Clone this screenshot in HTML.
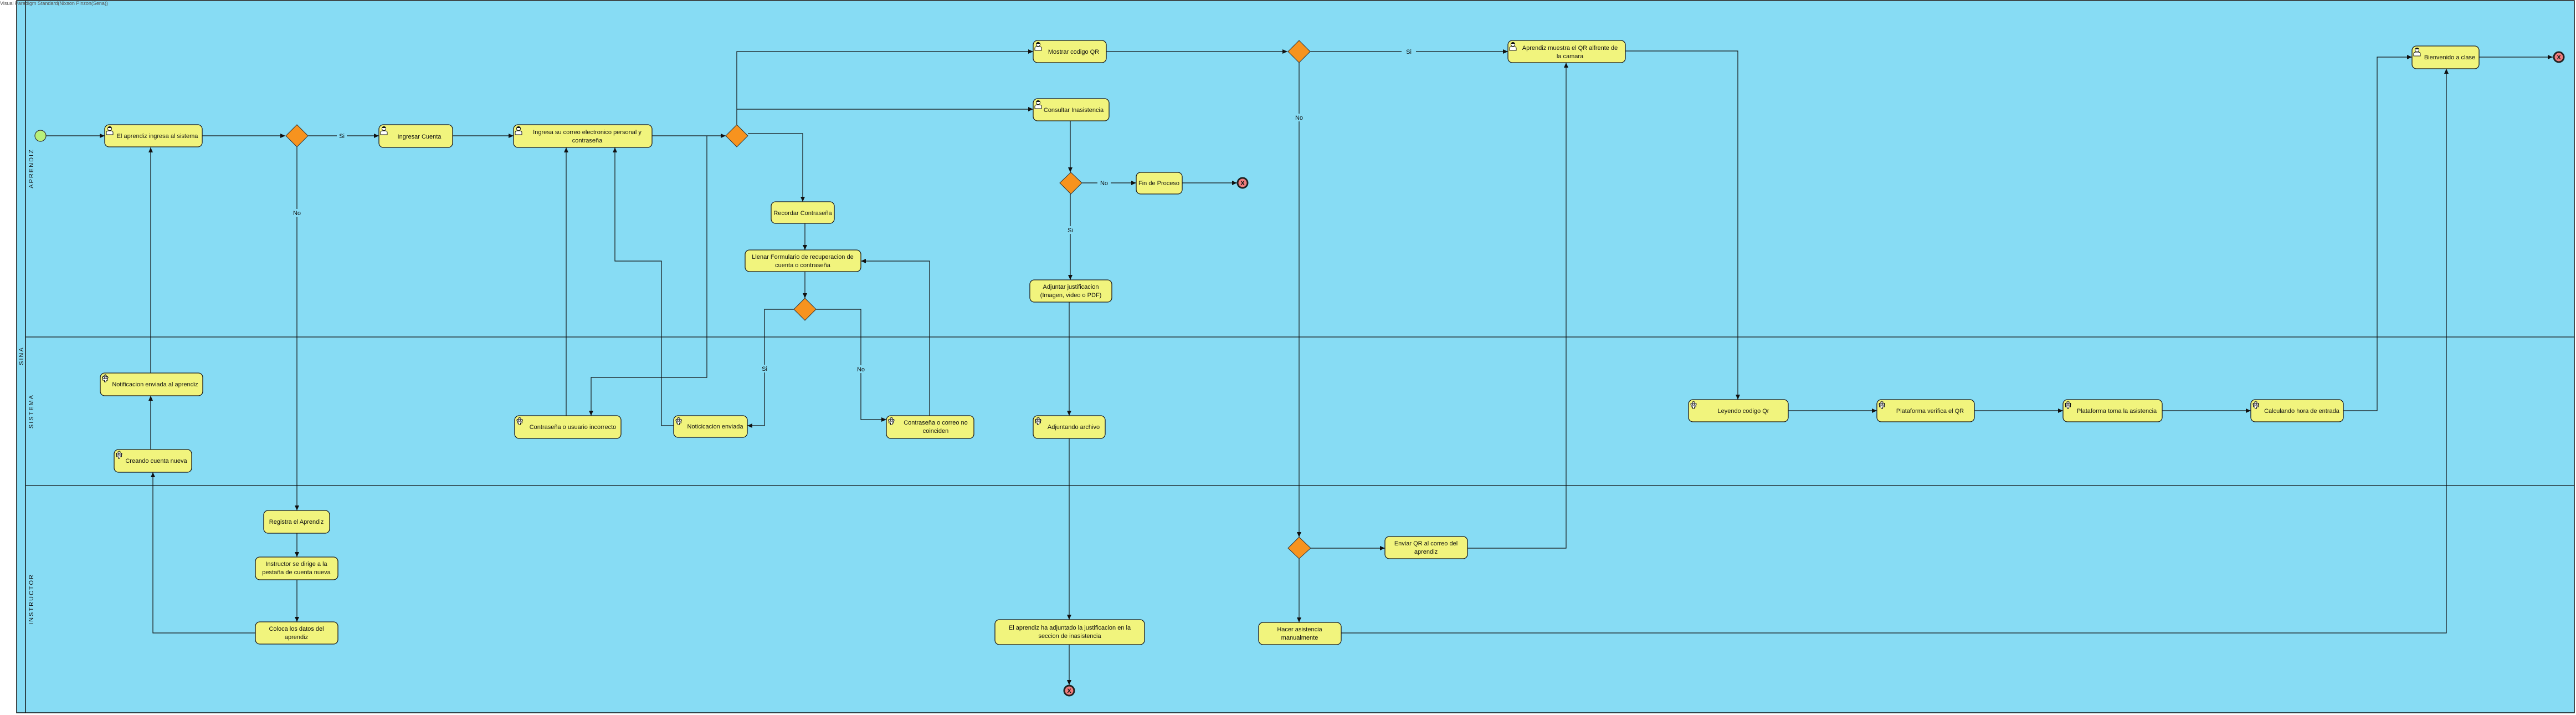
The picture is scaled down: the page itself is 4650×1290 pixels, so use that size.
<!DOCTYPE html>
<html><head><meta charset="utf-8"><style>
html,body{margin:0;padding:0;background:#fff;}
svg{display:block;}
text{font-family:"Liberation Sans",Arial,sans-serif;font-size:11px;fill:#111;}
.t rect.b{fill:#F1F47D;stroke:#1a1a1a;stroke-width:1.3;}
.c{fill:none;stroke:#111;stroke-width:1.2;}
.lbl text{font-size:11px;}
</style></head><body>
<svg width="4650" height="1290" viewBox="0 0 4650 1290" xmlns="http://www.w3.org/2000/svg">
<defs>
<marker id="a" markerWidth="10" markerHeight="10" refX="9" refY="5" orient="auto" markerUnits="userSpaceOnUse"><path d="M0,1 L9,5 L0,9 z" fill="#111"/></marker>
<g id="usr"><circle cx="7" cy="5" r="3.6" fill="#fff" stroke="#111" stroke-width="1"/><path d="M3.5,4 Q7,-1 10.5,4 Z" fill="#111"/><path d="M1,16 L1,12 Q1,9 5,9 L9,9 Q13,9 13,12 L13,16 Z" fill="#fff" stroke="#111" stroke-width="1"/></g>
<g id="gear"><path d="M5,1 h4 v2.5 h2.5 v4 h-2.5 v0 h0 v2.5 h-4 v-2.5 h-2.5 v-4 h2.5 z M1,5 h2 M11,5 h2 M7,-1 v2 M7,11 v2" fill="#fff" stroke="#111" stroke-width="1"/><circle cx="7" cy="5.5" r="1.8" fill="#fff" stroke="#111" stroke-width="1"/><path d="M2.5,10 h3 v3 h3 v-3 h3 v-3 h-9 z" fill="#fff" stroke="#111" stroke-width="1"/></g>
</defs>
<rect x="0" y="0" width="4650" height="1290" fill="#fff"/>
<rect x="30" y="1" width="4617" height="1285" fill="#87DCF4" stroke="#111" stroke-width="1.5"/>
<line x1="46" y1="1" x2="46" y2="1286" stroke="#111" stroke-width="1.5"/>
<line x1="46" y1="608" x2="4647" y2="608" stroke="#111" stroke-width="1.3"/>
<line x1="46" y1="876" x2="4647" y2="876" stroke="#111" stroke-width="1.3"/>
<text x="0" y="9" style="font-size:9px;fill:#555">Visual Paradigm Standard(Nixson Pinzon(Sena))</text>
<text transform="translate(42,642) rotate(-90)" text-anchor="middle" style="font-size:11px;letter-spacing:2px">SINA</text>
<text transform="translate(60,304) rotate(-90)" text-anchor="middle" style="font-size:11px;letter-spacing:2px">APRENDIZ</text>
<text transform="translate(60,742) rotate(-90)" text-anchor="middle" style="font-size:11px;letter-spacing:2px">SISTEMA</text>
<text transform="translate(60,1081) rotate(-90)" text-anchor="middle" style="font-size:11px;letter-spacing:2px">INSTRUCTOR</text>

<g class="cn">
<polyline class="c" marker-end="url(#a)" points="83,245 189,245"/>
<polyline class="c" marker-end="url(#a)" points="365,245 515,245"/>
<polyline class="c" marker-end="url(#a)" points="556,245 684,245"/>
<polyline class="c" marker-end="url(#a)" points="817,245 927,245"/>
<polyline class="c" marker-end="url(#a)" points="1177,245 1310,245"/>
<polyline class="c" marker-end="url(#a)" points="1330,225 1330,93 1865,93"/>
<polyline class="c" marker-end="url(#a)" points="1330,197 1865,197"/>
<polyline class="c" marker-end="url(#a)" points="1350,241 1449,241 1449,364"/>
<polyline class="c" marker-end="url(#a)" points="1453,403 1453,451"/>
<polyline class="c" marker-end="url(#a)" points="1453,490 1453,538"/>
<polyline class="c" marker-end="url(#a)" points="1433,558 1380,558 1380,768 1349,768"/>
<polyline class="c" marker-end="url(#a)" points="1473,558 1554,558 1554,757 1600,757"/>
<polyline class="c" marker-end="url(#a)" points="1678,750 1678,471 1554,471"/>
<polyline class="c" marker-end="url(#a)" points="1216,768 1194,768 1194,471 1110,471 1110,266"/>
<polyline class="c" marker-end="url(#a)" points="1022,750 1022,266"/>
<polyline class="c" marker-end="url(#a)" points="1276,245 1276,681 1067,681 1067,750"/>
<polyline class="c" marker-end="url(#a)" points="536,265 536,921"/>
<polyline class="c" marker-end="url(#a)" points="536,962 536,1005"/>
<polyline class="c" marker-end="url(#a)" points="536,1046 536,1122"/>
<polyline class="c" marker-end="url(#a)" points="461,1142 276,1142 276,852"/>
<polyline class="c" marker-end="url(#a)" points="272,811 272,714"/>
<polyline class="c" marker-end="url(#a)" points="272,673 272,266"/>
<polyline class="c" marker-end="url(#a)" points="1932,218 1932,311"/>
<polyline class="c" marker-end="url(#a)" points="1953,330 2051,330"/>
<polyline class="c" marker-end="url(#a)" points="2134,330 2233,330"/>
<polyline class="c" marker-end="url(#a)" points="1932,350 1932,505"/>
<polyline class="c" marker-end="url(#a)" points="1930,545 1930,750"/>
<polyline class="c" marker-end="url(#a)" points="1930,791 1930,1118"/>
<polyline class="c" marker-end="url(#a)" points="1930,1163 1930,1236"/>
<polyline class="c" marker-end="url(#a)" points="1997,93 2324,93"/>
<polyline class="c" marker-end="url(#a)" points="2365,93 2722,93"/>
<polyline class="c" marker-end="url(#a)" points="2345,113 2345,969"/>
<polyline class="c" marker-end="url(#a)" points="2366,989 2500,989"/>
<polyline class="c" marker-end="url(#a)" points="2345,1008 2345,1123"/>
<polyline class="c" marker-end="url(#a)" points="2649,989 2827,989 2827,113"/>
<polyline class="c" marker-end="url(#a)" points="2934,92 3137,92 3137,721"/>
<polyline class="c" marker-end="url(#a)" points="3228,741 3388,741"/>
<polyline class="c" marker-end="url(#a)" points="3564,741 3724,741"/>
<polyline class="c" marker-end="url(#a)" points="3903,741 4063,741"/>
<polyline class="c" marker-end="url(#a)" points="4230,741 4291,741 4291,103 4354,103"/>
<polyline class="c" marker-end="url(#a)" points="2421,1142 4416,1142 4416,124"/>
<polyline class="c" marker-end="url(#a)" points="4475,103 4608,103"/>
</g>
<g class="lbl">
<rect x="608" y="238" width="18" height="14" fill="#87DCF4"/><text x="617" y="249" text-anchor="middle">Si</text>
<rect x="526" y="377" width="20" height="14" fill="#87DCF4"/><text x="536" y="388" text-anchor="middle">No</text>
<rect x="1370" y="658" width="20" height="14" fill="#87DCF4"/><text x="1380" y="669" text-anchor="middle">Si</text>
<rect x="1544" y="659" width="20" height="14" fill="#87DCF4"/><text x="1554" y="670" text-anchor="middle">No</text>
<rect x="1981" y="323" width="24" height="14" fill="#87DCF4"/><text x="1993" y="334" text-anchor="middle">No</text>
<rect x="1922" y="408" width="20" height="14" fill="#87DCF4"/><text x="1932" y="419" text-anchor="middle">Si</text>
<rect x="2530" y="86" width="26" height="14" fill="#87DCF4"/><text x="2543" y="97" text-anchor="middle">Si</text>
<rect x="2333" y="205" width="24" height="14" fill="#87DCF4"/><text x="2345" y="216" text-anchor="middle">No</text>
</g>

<circle cx="73" cy="245" r="10" fill="#B8F07A" stroke="#333" stroke-width="1.2"/>
<g fill="#F7931E" stroke="#333" stroke-width="1">
<polygon points="536,225 556,245 536,265 516,245"/>
<polygon points="1330,225 1350,245 1330,265 1310,245"/>
<polygon points="1453,538 1473,558 1453,578 1433,558"/>
<polygon points="2345,73 2365,93 2345,113 2325,93"/>
<polygon points="1933,311 1953,330 1933,350 1913,330"/>
<polygon points="2345,969 2366,989 2345,1008 2325,989"/>
</g>
<g>
<circle cx="2243" cy="330" r="9" fill="#F07C7C" stroke="#222" stroke-width="3"/><text x="2243" y="334" text-anchor="middle" style="font-size:11px;font-weight:bold">X</text>
<circle cx="1930" cy="1246" r="9" fill="#F07C7C" stroke="#222" stroke-width="3"/><text x="1930" y="1250" text-anchor="middle" style="font-size:11px;font-weight:bold">X</text>
<circle cx="4619" cy="103" r="9" fill="#F07C7C" stroke="#222" stroke-width="3"/><text x="4619" y="107" text-anchor="middle" style="font-size:11px;font-weight:bold">X</text>
</g>

<g class="t">
<rect class="b" x="189" y="225" width="176" height="40" rx="8"/><use href="#usr" x="191" y="227"/><text x="284" y="249" text-anchor="middle">El aprendiz ingresa al sistema</text>
<rect class="b" x="684" y="225" width="133" height="41" rx="8"/><use href="#usr" x="686" y="227"/><text x="757" y="250" text-anchor="middle">Ingresar Cuenta</text>
<rect class="b" x="927" y="225" width="250" height="41" rx="8"/><use href="#usr" x="929" y="227"/><text x="1060" y="242" text-anchor="middle">Ingresa su correo electronico personal y</text><text x="1060" y="257" text-anchor="middle">contraseña</text>
<rect class="b" x="1392" y="364" width="114" height="39" rx="8"/><text x="1449" y="388" text-anchor="middle">Recordar Contraseña</text>
<rect class="b" x="1345" y="451" width="209" height="39" rx="8"/><text x="1449" y="467" text-anchor="middle">Llenar Formulario de recuperacion de</text><text x="1449" y="482" text-anchor="middle">cuenta o contraseña</text>
<rect class="b" x="1865" y="73" width="132" height="40" rx="8"/><use href="#usr" x="1867" y="75"/><text x="1938" y="97" text-anchor="middle">Mostrar codigo QR</text>
<rect class="b" x="1865" y="178" width="137" height="40" rx="8"/><use href="#usr" x="1867" y="180"/><text x="1938" y="202" text-anchor="middle">Consultar Inasistencia</text>
<rect class="b" x="2051" y="311" width="83" height="39" rx="8"/><text x="2092" y="334" text-anchor="middle">Fin de Proceso</text>
<rect class="b" x="1859" y="505" width="148" height="40" rx="8"/><text x="1933" y="521" text-anchor="middle">Adjuntar justificacion</text><text x="1933" y="536" text-anchor="middle">(Imagen, video o PDF)</text>
<rect class="b" x="2722" y="73" width="212" height="40" rx="8"/><use href="#usr" x="2724" y="75"/><text x="2834" y="90" text-anchor="middle">Aprendiz muestra el QR alfrente de</text><text x="2834" y="105" text-anchor="middle">la camara</text>
<rect class="b" x="4354" y="83" width="121" height="41" rx="8"/><use href="#usr" x="4356" y="85"/><text x="4422" y="107" text-anchor="middle">Bienvenido a clase</text>

<rect class="b" x="181" y="673" width="185" height="41" rx="8"/><use href="#gear" x="183" y="676"/><text x="280" y="697" text-anchor="middle">Notificacion enviada al aprendiz</text>
<rect class="b" x="206" y="811" width="140" height="41" rx="8"/><use href="#gear" x="208" y="814"/><text x="282" y="835" text-anchor="middle">Creando cuenta nueva</text>
<rect class="b" x="929" y="750" width="192" height="41" rx="8"/><use href="#gear" x="931" y="753"/><text x="1034" y="774" text-anchor="middle">Contraseña o usuario incorrecto</text>
<rect class="b" x="1216" y="750" width="133" height="39" rx="8"/><use href="#gear" x="1218" y="753"/><text x="1291" y="773" text-anchor="middle">Noticicacion enviada</text>
<rect class="b" x="1600" y="750" width="158" height="41" rx="8"/><use href="#gear" x="1602" y="753"/><text x="1689" y="766" text-anchor="middle">Contraseña o correo no</text><text x="1689" y="781" text-anchor="middle">coinciden</text>
<rect class="b" x="1865" y="750" width="130" height="41" rx="8"/><use href="#gear" x="1867" y="753"/><text x="1938" y="774" text-anchor="middle">Adjuntando archivo</text>
<rect class="b" x="3048" y="721" width="180" height="40" rx="8"/><use href="#gear" x="3050" y="724"/><text x="3147" y="745" text-anchor="middle">Leyendo codigo Qr</text>
<rect class="b" x="3388" y="721" width="176" height="40" rx="8"/><use href="#gear" x="3390" y="724"/><text x="3484" y="745" text-anchor="middle">Plataforma verifica el QR</text>
<rect class="b" x="3724" y="721" width="179" height="40" rx="8"/><use href="#gear" x="3726" y="724"/><text x="3821" y="745" text-anchor="middle">Plataforma toma la asistencia</text>
<rect class="b" x="4063" y="721" width="167" height="40" rx="8"/><use href="#gear" x="4065" y="724"/><text x="4155" y="745" text-anchor="middle">Calculando hora de entrada</text>

<rect class="b" x="476" y="921" width="119" height="41" rx="8"/><text x="535" y="945" text-anchor="middle">Registra el Aprendiz</text>
<rect class="b" x="461" y="1005" width="149" height="41" rx="8"/><text x="535" y="1021" text-anchor="middle">Instructor se dirige a la</text><text x="535" y="1036" text-anchor="middle">pestaña de cuenta nueva</text>
<rect class="b" x="461" y="1122" width="149" height="40" rx="8"/><text x="535" y="1138" text-anchor="middle">Coloca los datos del</text><text x="535" y="1153" text-anchor="middle">aprendiz</text>
<rect class="b" x="1796" y="1118" width="270" height="45" rx="8"/><text x="1931" y="1136" text-anchor="middle">El aprendiz ha adjuntado la justificacion en la</text><text x="1931" y="1151" text-anchor="middle">seccion de inasistencia</text>
<rect class="b" x="2500" y="968" width="149" height="40" rx="8"/><text x="2574" y="984" text-anchor="middle">Enviar QR al correo del</text><text x="2574" y="999" text-anchor="middle">aprendiz</text>
<rect class="b" x="2272" y="1123" width="149" height="40" rx="8"/><text x="2346" y="1139" text-anchor="middle">Hacer asistencia</text><text x="2346" y="1154" text-anchor="middle">manualmente</text>
</g>
</svg>
</body></html>
